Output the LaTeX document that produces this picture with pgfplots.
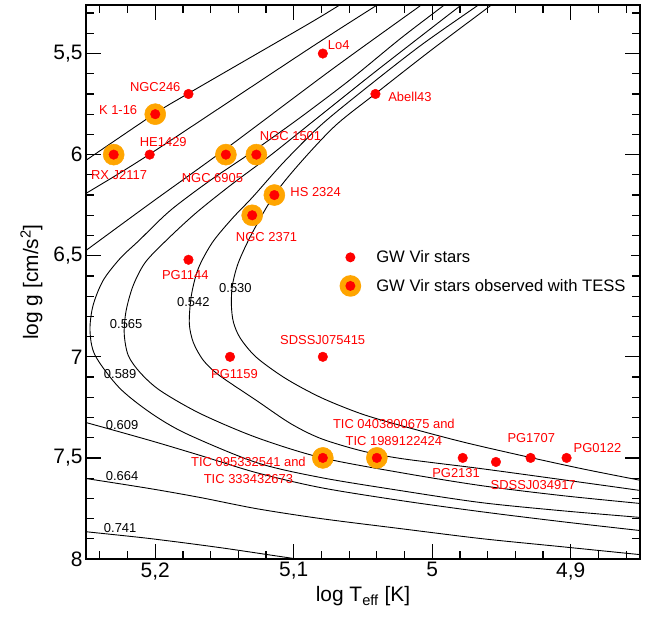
\documentclass[border=0pt]{standalone}
\usepackage{fontspec}
\setmainfont{Liberation Sans}
\usepackage{pgfplots}
\pgfplotsset{compat=1.18}
\definecolor{tessorange}{RGB}{255,165,0}
\begin{document}
\begin{tikzpicture}
\begin{axis}[
  at={(0,0)}, anchor=south west,
  width=554bp, height=554bp, scale only axis,
  xmin=4.85, xmax=5.25, ymin=5.26, ymax=8,
  x dir=reverse, y dir=reverse,
  xtick={4.9,5,5.1,5.2}, ytick={5.5,6,6.5,7,7.5,8},
  minor xtick={4.86,4.88,4.92,4.94,4.96,4.98,5.02,5.04,5.06,5.08,5.12,5.14,5.16,5.18,5.22,5.24},
  minor ytick={5.3,5.4,5.6,5.7,5.8,5.9,6.1,6.2,6.3,6.4,6.6,6.7,6.8,6.9,7.1,7.2,7.3,7.4,7.6,7.7,7.8,7.9},
  major tick length=15bp, minor tick length=8bp,
  every tick/.style={black, line width=1.2bp},
  axis line style={line width=2bp},
  tick label style={font=\fontsize{21}{25}\selectfont},
  /pgf/number format/use comma,
  /pgf/number format/assume math mode=true,
  xlabel={log T\textsubscript{eff} [K]},
  ylabel={log g [cm/s\textsuperscript{2}]},
  label style={font=\fontsize{21}{25}\selectfont},
  ylabel style={yshift=4bp},
  legend style={at={(axis description cs:0.452,0.568)}, anchor=north west,
    draw=none, font=\fontsize{16.7}{20}\selectfont, row sep=7bp},
  legend cell align=left,
]
\addlegendimage{legend image code/.code={\path[draw=none,fill=none] (0.3cm,0cm) circle (10.8bp) (32.3bp,0cm); \fill[fill=red, draw=none] (0.3cm,0cm) circle (5bp);}}
\addlegendimage{legend image code/.code={\path[draw=none,fill=none] (32.3bp,0cm) circle (0.1bp); \fill[fill=tessorange, draw=none] (0.3cm,0cm) circle (10.8bp); \fill[fill=red, draw=none] (0.3cm,0cm) circle (5bp);}}
\legend{GW Vir stars, GW Vir stars observed with TESS}

% TESS stars (orange halo, drawn beneath the tracks)
\addplot[only marks, mark=*, color=tessorange, mark size=10.5bp, mark options={fill=tessorange, draw=tessorange, line width=0.5bp}, forget plot] coordinates {
(5.2,5.8) (5.230,6.0) (5.149,6.0) (5.127,6.0) (5.114,6.2) (5.130,6.3) (5.079,7.5) (5.040,7.5)};

% evolutionary tracks
\addplot[black, line width=0.9bp, smooth, tension=0.5, forget plot] coordinates {(5.052,5.2015) (5.067,5.261) (5.091,5.36) (5.176,5.697) (5.2,5.796) (5.25,6.028) (5.262,6.083)};
\addplot[black, line width=0.9bp, smooth, tension=0.5, forget plot] coordinates {(5.2615,7.855) (5.25,7.865) (5.2036,7.899) (5.1529,7.944) (5.0994,7.998) (5.0805,8.013)};
\addplot[black, line width=0.9bp, smooth, tension=0.5, forget plot] coordinates {(5.0262,5.2015) (5.04,5.261) (5.0907,5.484) (5.2043,5.999) (5.25,6.192) (5.2615,6.241)};
\addplot[black, line width=0.9bp, smooth, tension=0.5, forget plot] coordinates {(5.2615,7.592) (5.25,7.602) (5.2036,7.652) (5.1674,7.696) (5.1269,7.751) (5.0805,7.800) (5.0226,7.850) (4.9647,7.899) (4.9068,7.939) (4.8489,7.979) (4.8344,7.988)};
\addplot[black, line width=0.9bp, smooth, tension=0.5, forget plot] coordinates {(4.9958,5.2015) (5.0081,5.261) (5.0733,5.583) (5.1486,5.969) (5.2036,6.241) (5.25,6.474) (5.2615,6.533)};
\addplot[black, line width=0.9bp, smooth, tension=0.5, forget plot] coordinates {(5.2615,7.305) (5.25,7.325) (5.2036,7.414) (5.1674,7.488) (5.1269,7.573) (5.0805,7.647) (5.0226,7.711) (4.9647,7.766) (4.9068,7.815) (4.8489,7.860) (4.8344,7.870)};
\addplot[black, line width=0.9bp, smooth, tension=0.5, forget plot] coordinates {(4.9806,5.2015) (4.9915,5.261) (5.0226,5.424) (5.0588,5.627) (5.095,5.815) (5.1305,5.989) (5.1602,6.127) (5.1891,6.276) (5.2116,6.424) (5.2253,6.513) (5.2376,6.622) (5.2449,6.746) (5.2471,6.870) (5.2434,6.993) (5.2261,7.152) (5.2036,7.276) (5.1776,7.380) (5.1269,7.523) (5.0805,7.597) (5.0226,7.662) (4.9647,7.721) (4.9068,7.761) (4.8489,7.795) (4.8344,7.805)};
\addplot[black, line width=0.9bp, smooth, tension=0.5, forget plot] coordinates {(4.9676,5.2015) (4.9792,5.261) (5.0081,5.414) (5.0443,5.607) (5.0805,5.805) (5.1167,6.003) (5.1457,6.152) (5.171,6.291) (5.192,6.424) (5.2072,6.533) (5.2159,6.647) (5.221,6.771) (5.2224,6.885) (5.2195,6.993) (5.2109,7.078) (5.1964,7.167) (5.1674,7.281) (5.1269,7.399) (5.0805,7.498) (5.0226,7.573) (4.9647,7.637) (4.9068,7.686) (4.8489,7.726) (4.8344,7.736)};
\addplot[black, line width=0.9bp, smooth, tension=0.5, forget plot] coordinates {(4.9546,5.2015) (4.9669,5.261) (5.0081,5.459) (5.048,5.672) (5.0805,5.855) (5.1073,6.038) (5.1298,6.211) (5.1443,6.315) (5.1587,6.434) (5.1689,6.563) (5.1739,6.696) (5.1754,6.834) (5.1725,6.929) (5.1652,7.018) (5.1537,7.092) (5.1269,7.216) (5.1023,7.330) (5.0805,7.404) (5.0516,7.464) (5.0226,7.503) (4.9647,7.553) (4.9068,7.607) (4.8489,7.662) (4.8344,7.677)};
\addplot[black, line width=0.9bp, smooth, tension=0.5, forget plot] coordinates {(4.9466,5.2015) (4.9575,5.261) (5.0009,5.484) (5.0407,5.697) (5.0697,5.855) (5.095,6.038) (5.1138,6.197) (5.1298,6.385) (5.1399,6.533) (5.1443,6.647) (5.145,6.746) (5.1435,6.830) (5.1385,6.909) (5.1269,7.003) (5.1059,7.107) (5.0805,7.201) (5.0516,7.281) (5.0226,7.340) (4.9792,7.419) (4.9357,7.488) (4.8923,7.553) (4.8489,7.612) (4.8344,7.632)};

% all GW Vir stars
\addplot[only marks, mark=*, color=red, mark size=4.8bp, mark options={fill=red, draw=red, line width=0.4bp}, forget plot] coordinates {
(5.079,5.5) (5.176,5.7) (5.2,5.8) (5.204,6.0) (5.230,6.0) (5.149,6.0) (5.127,6.0) (5.114,6.2) (5.130,6.3) (5.176,6.52) (5.041,5.7) (5.146,7.0) (5.079,7.0) (5.079,7.5) (5.040,7.5) (4.978,7.5) (4.954,7.52) (4.929,7.5) (4.903,7.5)};

% star names
\begin{scope}[every node/.style={text=red, font=\fontsize{13}{17}\selectfont, inner sep=0pt, align=center}]
\node at (axis cs:5.0675,5.459) {Lo4};
\node at (axis cs:5.2,5.667) {NGC246};
\node at (axis cs:5.2268,5.781) {K 1-16};
\node at (axis cs:5.1942,5.939) {HE1429};
\node at (axis cs:5.2261,6.102) {RX J2117};
\node at (axis cs:5.1587,6.117) {NGC 6905};
\node at (axis cs:5.1023,5.909) {NGC 1501};
\node at (axis cs:5.0842,6.187) {HS 2324};
\node at (axis cs:5.1196,6.409) {NGC 2371};
\node at (axis cs:5.1783,6.597) {PG1144};
\node at (axis cs:5.0161,5.716) {Abell43};
\node at (axis cs:5.1428,7.083) {PG1159};
\node at (axis cs:5.0791,6.919) {SDSSJ075415};
\node at (axis cs:5.1327,7.560) {TIC 095332541 and\\TIC 333432673};
\node at (axis cs:5.0277,7.372) {TIC 0403800675 and\\TIC 1989122424};
\node at (axis cs:4.9828,7.573) {PG2131};
\node at (axis cs:4.9271,7.632) {SDSSJ034917};
\node at (axis cs:4.9285,7.404) {PG1707};
\node at (axis cs:4.8807,7.449) {PG0122};
\end{scope}
% track masses
\begin{scope}[every node/.style={text=black, font=\fontsize{13}{17}\selectfont, inner sep=0pt}]
\node at (axis cs:5.1421,6.662) {0.530};
\node at (axis cs:5.1725,6.731) {0.542};
\node at (axis cs:5.221,6.840) {0.565};
\node at (axis cs:5.2253,7.087) {0.589};
\node at (axis cs:5.2239,7.335) {0.609};
\node at (axis cs:5.2239,7.592) {0.664};
\node at (axis cs:5.2253,7.849) {0.741};
\end{scope}
\end{axis}
\pgfresetboundingbox
\path[use as bounding box] (-86bp,-63bp) rectangle (563bp,559bp);
\end{tikzpicture}
\end{document}
